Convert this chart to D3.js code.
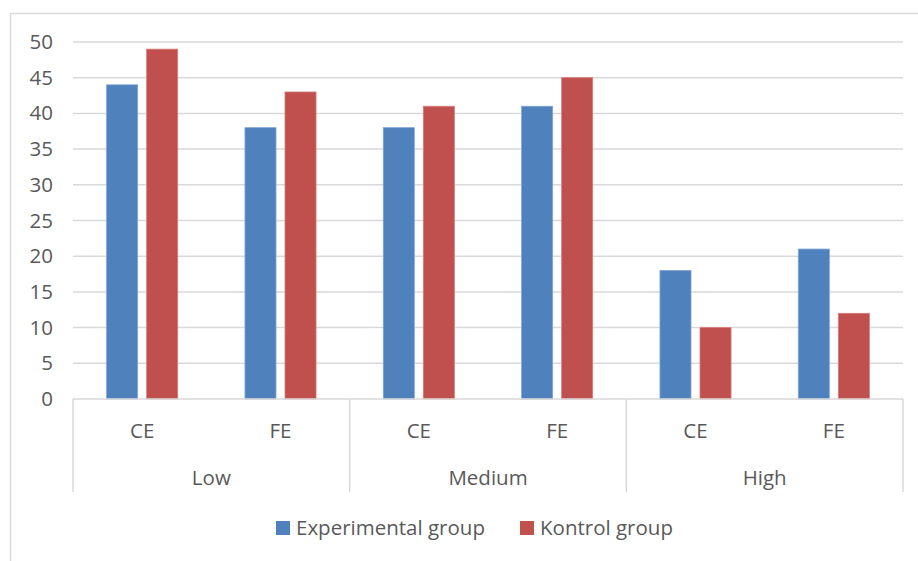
<!DOCTYPE html>
<html>
<head>
<meta charset="utf-8">
<script src="https://cdn.jsdelivr.net/npm/d3@7"></script>
<style>
  html, body { margin: 0; padding: 0; background: #fff; }
  svg { display: block; }
  text { font-family: "Open Sans", "Noto Sans", sans-serif; fill: #595959; }
</style>
</head>
<body>
<script>
const groups = ["Low", "Medium", "High"];
const subcats = ["CE", "FE"];
const seriesNames = ["Experimental group", "Kontrol group"];
const experimental = [44, 38, 38, 41, 18, 21];
const kontrol = [49, 43, 41, 45, 10, 12];
const yTicks = [0, 5, 10, 15, 20, 25, 30, 35, 40, 45, 50];
const colors = ["#4f81bd", "#c0504d"];

const W = 918, H = 561;
const plotL = 73, plotR = 903, plotT = 42, plotB = 399;
const FS = 20.5;

const svg = d3.select("body").append("svg").attr("width", W).attr("height", H);

// chart border
svg.append("rect").attr("x", 10.5).attr("y", 13.5).attr("width", 930).attr("height", 600)
  .attr("fill", "none").attr("stroke", "#d9d9d9").attr("stroke-width", 1.5);

const y = d3.scaleLinear().domain([0, 50]).range([plotB, plotT]);

const cats = [];
groups.forEach(g => subcats.forEach(s => cats.push(g + "|" + s)));

const x0 = d3.scaleBand().domain(cats).range([plotL, plotR]).paddingInner(0).paddingOuter(0);
const x1 = d3.scaleBand().domain(seriesNames).range([0, x0.bandwidth()]).paddingInner(0.225).paddingOuter(0.84);
const xg = d3.scaleBand().domain(groups).range([plotL, plotR]);

// gridlines
svg.append("g").selectAll("line").data(yTicks.filter(d => d > 0)).join("line")
  .attr("x1", plotL).attr("x2", plotR)
  .attr("y1", d => y(d)).attr("y2", d => y(d))
  .attr("stroke", "#d9d9d9").attr("stroke-width", 1.5);

// y axis labels
const yAxis = d3.axisLeft(y).tickValues(yTicks).tickSize(0).tickPadding(0);
const ya = svg.append("g").attr("transform", `translate(${plotL - 20},0)`).call(yAxis);
ya.select(".domain").remove();
ya.selectAll("text").attr("font-size", FS).style("font-family", '"Open Sans", "Noto Sans", sans-serif').attr("fill", "#595959");

// bars
const data = cats.map((c, i) => ({ cat: c, vals: [experimental[i], kontrol[i]] }));
const cg = svg.append("g").selectAll("g").data(data).join("g")
  .attr("transform", d => `translate(${x0(d.cat)},0)`);
cg.selectAll("rect").data(d => d.vals.map((v, j) => ({ v, j }))).join("rect")
  .attr("x", d => x1(seriesNames[d.j]))
  .attr("width", x1.bandwidth())
  .attr("y", d => y(d.v))
  .attr("height", d => y(0) - y(d.v))
  .attr("fill", d => colors[d.j])
  .attr("stroke", d => d.j === 0 ? "#7ea3d4" : "#d67a78")
  .attr("stroke-width", 0.8);

// x axis base line
svg.append("line").attr("x1", plotL).attr("x2", plotR).attr("y1", plotB).attr("y2", plotB)
  .attr("stroke", "#d9d9d9").attr("stroke-width", 1.5);

// group dividers
const divs = groups.map(g => xg(g)).concat([plotR]);
svg.append("g").selectAll("line").data(divs).join("line")
  .attr("x1", d => d).attr("x2", d => d).attr("y1", plotB).attr("y2", 492)
  .attr("stroke", "#d9d9d9").attr("stroke-width", 1.5);

// sub labels
svg.append("g").selectAll("text").data(cats).join("text")
  .attr("x", d => x0(d) + x0.bandwidth() / 2)
  .attr("y", 437.5)
  .attr("text-anchor", "middle").attr("font-size", FS)
  .text(d => d.split("|")[1]);

// group labels
svg.append("g").selectAll("text").data(groups).join("text")
  .attr("x", d => xg(d) + xg.bandwidth() / 2)
  .attr("y", 484.5)
  .attr("text-anchor", "middle").attr("font-size", FS)
  .text(d => d);

// legend
const legX = [276, 520];
const lg = svg.append("g").selectAll("g").data(seriesNames).join("g")
  .attr("transform", (d, i) => `translate(${legX[i]},521)`);
lg.append("rect").attr("width", 14).attr("height", 14).attr("fill", (d, i) => colors[i]);
lg.append("text").attr("x", 20).attr("y", 14).attr("font-size", FS).text(d => d);
</script>
</body>
</html>
